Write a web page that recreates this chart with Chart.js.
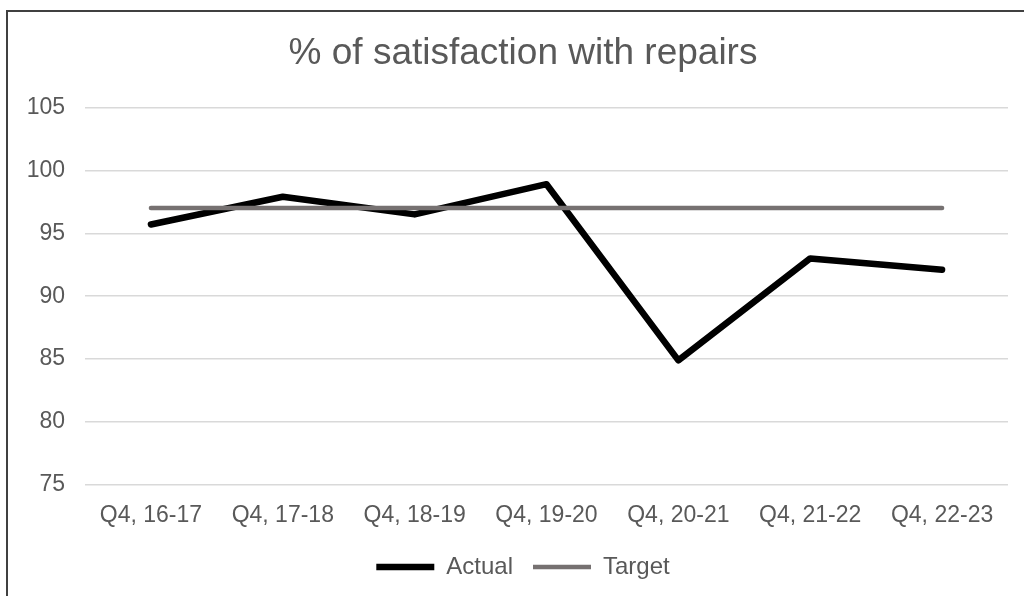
<!DOCTYPE html>
<html>
<head>
<meta charset="utf-8">
<script src="https://cdn.jsdelivr.net/npm/chart.js@4.4.1/dist/chart.umd.min.js"></script>
<style>
  html, body { margin: 0; padding: 0; background: #fff; overflow: hidden; }
  #frame {
    position: absolute; left: 6px; top: 10px;
    width: 1100px; height: 700px;
    border: 2px solid #404040;
  }
  #wrap { position: absolute; left: 0; top: 0; width: 1024px; height: 596px; }
</style>
</head>
<body>
<div id="frame"></div>
<div id="wrap"><canvas id="satisfaction" width="1024" height="596"></canvas></div>
<script>
// values
var quarters = ["Q4, 16-17", "Q4, 17-18", "Q4, 18-19", "Q4, 19-20", "Q4, 20-21", "Q4, 21-22", "Q4, 22-23"];
var actual = [95.7, 97.9, 96.5, 98.9, 84.9, 93.0, 92.1];
var target = [97, 97, 97, 97, 97, 97, 97];
var yTicks = [75, 80, 85, 90, 95, 100, 105];

var textGray = "#595959";
var fontFamily = "'Liberation Sans', Arial, sans-serif";

// y tick labels stick out into the left padding, so widen their clip box
var unclipY = {
  id: "unclipY",
  afterLayout: function(chart) {
    chart.scales.y.left = 0;
  }
};

var ctx = document.getElementById("satisfaction").getContext("2d");

var satisfactionChart = new Chart(ctx, {
  type: "line",
  data: {
    labels: quarters,
    datasets: [
      {
        label: "Actual",
        data: actual,
        borderColor: "#000000",
        backgroundColor: "#000000",
        borderWidth: 6.5,
        borderCapStyle: "round",
        borderJoinStyle: "round",
        pointRadius: 0,
        pointStyle: "line",
        tension: 0,
        fill: false,
        order: 1
      },
      {
        label: "Target",
        data: target,
        borderColor: "#767171",
        backgroundColor: "#767171",
        borderWidth: 4.5,
        borderCapStyle: "round",
        borderJoinStyle: "round",
        pointRadius: 0,
        pointStyle: "line",
        tension: 0,
        fill: false,
        order: 0
      }
    ]
  },
  options: {
    responsive: false,
    animation: false,
    // left padding keeps title and legend centred on the frame
    layout: { padding: { left: 38, right: 16, top: 0, bottom: 7 } },
    plugins: {
      title: {
        display: true,
        text: "% of satisfaction with repairs",
        color: textGray,
        font: { family: fontFamily, size: 37, weight: "normal" },
        padding: { top: 32, bottom: 31 }
      },
      legend: {
        position: "bottom",
        labels: {
          color: textGray,
          font: { family: fontFamily, size: 24 },
          usePointStyle: true,
          pointStyleWidth: 58,
          padding: 20,
          sort: function(a, b) { return a.datasetIndex - b.datasetIndex; }
        }
      },
      tooltip: { enabled: false }
    },
    scales: {
      x: {
        offset: true,
        grid: { display: false, drawTicks: false },
        border: { display: false },
        ticks: {
          color: textGray,
          font: { family: fontFamily, size: 23 },
          padding: 17,
          maxRotation: 0,
          autoSkip: false
        },
        afterFit: function(scale) { scale.height = 50; }
      },
      y: {
        min: 75,
        max: 105,
        afterBuildTicks: function(scale) {
          scale.ticks = yTicks.map(function(v) { return { value: v }; });
        },
        grid: { color: "#d9d9d9", lineWidth: 1.5, drawTicks: false },
        border: { display: false },
        ticks: {
          color: textGray,
          font: { family: fontFamily, size: 23 },
          padding: 20
        },
        afterFit: function(scale) { scale.width = 47; }
      }
    }
  },
  plugins: [unclipY]
});
</script>
</body>
</html>
